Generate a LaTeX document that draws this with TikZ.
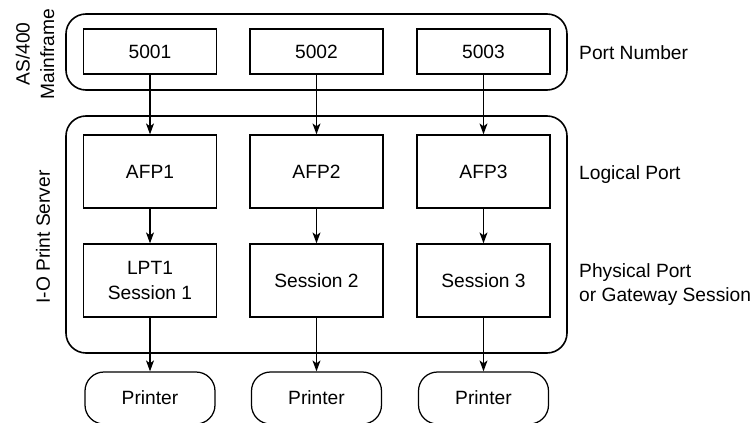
\documentclass[tikz,border=0pt]{standalone}
\usepackage{fontspec}
\setmainfont{Liberation Sans}
\usetikzlibrary{arrows.meta}
\tikzset{
  every node/.style={font=\fontsize{19.2}{24.5}\selectfont, text=black},
  portbox/.style={draw, line width=1.25pt, minimum width=133pt, minimum height=45pt, inner sep=0pt},
  procbox/.style={draw, line width=1.25pt, minimum width=133pt, minimum height=73pt, inner sep=0pt, align=center},
  printerbox/.style={draw, line width=1.25pt, rounded corners=19pt, minimum width=130pt, minimum height=52pt, inner sep=0pt},
  group/.style={draw, line width=1.6pt, rounded corners=20pt},
  flow/.style={draw, line width=1.25pt, -{Stealth[length=11pt,width=8pt,inset=3pt]}},
  sidelabel/.style={anchor=west, align=left, inner sep=0pt},
}
\begin{document}
\begin{tikzpicture}[x=1pt, y=-1pt]
\useasboundingbox[fill=white] (0,0) rectangle (753,423);

% enclosing groups
\draw[group] (66,14) rectangle (567,90);
\draw[group] (66,116) rectangle (567,353);

% port numbers on the mainframe
\node[portbox] (p1) at (150,51.5) {5001};
\node[portbox] (p2) at (316.5,51.5) {5002};
\node[portbox] (p3) at (483.5,51.5) {5003};

% logical ports
\node[procbox] (a1) at (150,171.5) {AFP1};
\node[procbox] (a2) at (316.5,171.5) {AFP2};
\node[procbox] (a3) at (483.5,171.5) {AFP3};

% physical ports / sessions
\node[procbox] (s1) at (150,280.5) {LPT1\\Session 1};
\node[procbox] (s2) at (316.5,280.5) {Session 2};
\node[procbox] (s3) at (483.5,280.5) {Session 3};

% printers
\node[printerbox] (r1) at (150,398) {Printer};
\node[printerbox] (r2) at (316.5,398) {Printer};
\node[printerbox] (r3) at (483.5,398) {Printer};

% connectors
\foreach \i in {1,2,3} {
  \draw[flow] (p\i) -- (a\i);
  \draw[flow] (a\i) -- (s\i);
  \draw[flow] (s\i) -- (r\i);
}

% row labels
\node[sidelabel] (lport) at (579,53) {Port Number};
\node[sidelabel] (llog) at (579,175) {Logical Port};
\node[sidelabel] (lphys) at (579,284.5) {Physical Port\\or Gateway Session};

% group labels
\node[rotate=90, align=center, inner sep=0pt] (lmain) at (35,54) {AS/400\\Mainframe};
\node[rotate=90, inner sep=0pt] (lserver) at (43,237) {I-O Print Server};
\end{tikzpicture}
\end{document}
